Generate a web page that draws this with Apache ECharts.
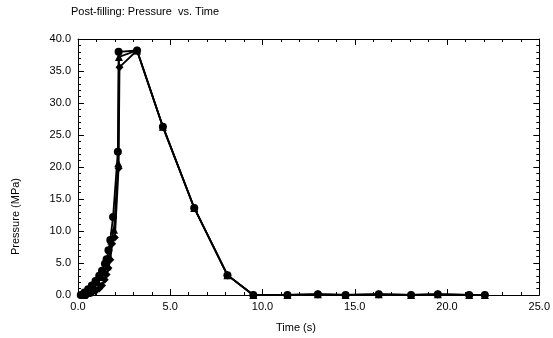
<!DOCTYPE html>
<html>
<head>
<meta charset="utf-8">
<script src="https://cdn.jsdelivr.net/npm/echarts@6/dist/echarts.min.js"></script>
<style>
  html, body { margin: 0; padding: 0; background: #fff; }
  #chart { width: 553px; height: 338px; }
</style>
</head>
<body>
<div id="chart"></div>
<script>
// time (s), pressure (MPa), one array per traced node
var riseA = [[0.15, 0], [0.35, 0.4], [0.55, 0.9], [0.75, 1.5], [0.95, 2.2], [1.15, 3.0], [1.3, 3.8],
             [1.46, 4.9], [1.55, 5.6], [1.65, 7.0], [1.75, 8.6], [1.9, 12.2], [2.16, 22.4], [2.2, 38.0]];
var riseB = [[0.3, 0], [0.5, 0.3], [0.7, 0.8], [0.9, 1.3], [1.1, 2.0], [1.3, 2.8], [1.45, 3.6],
             [1.6, 4.5], [1.7, 6.0], [1.8, 8.5], [1.95, 10.2], [2.18, 20.6], [2.22, 37.2]];
var riseC = [[0.5, 0], [0.75, 0.3], [0.95, 0.6], [1.15, 1.0], [1.3, 1.5], [1.45, 2.4], [1.55, 3.2],
             [1.65, 4.2], [1.75, 5.5], [1.85, 8.0], [2.0, 9.0], [2.2, 19.8], [2.25, 35.6]];
var decay = [[3.2, 38.2], [4.6, 26.3], [6.3, 13.6], [8.1, 3.1], [9.5, 0], [11.35, 0], [13.0, 0.1],
             [14.5, 0], [16.3, 0.1], [18.05, 0], [19.5, 0.1], [21.2, 0], [22.05, 0]];
var xTicks = [0, 25, 5];
var yTicks = [0, 40, 5];

var font = 'Liberation Sans, Arial, sans-serif';

function makeSeries(name, rise, symbol) {
  return {
    name: name,
    type: 'line',
    data: rise.concat(decay),
    symbol: symbol,
    symbolSize: 8,
    lineStyle: { color: '#000', width: 1.8 },
    itemStyle: { color: '#000' },
    animation: false
  };
}

var axisCommon = {
  type: 'value',
  splitLine: { show: false },
  axisLine: { onZero: false, lineStyle: { color: '#000', width: 1 } },
  axisTick: { inside: true, length: 6, lineStyle: { color: '#000' } },
  minorTick: { show: true, splitNumber: 5, length: 3, lineStyle: { color: '#000' } }
};

var option = {
  backgroundColor: '#fff',
  animation: false,
  grid: { left: 78, right: 12, top: 39, bottom: 43 },
  graphic: [
    { type: 'text', left: 71, top: 6,
      style: { text: 'Post-filling: Pressure  vs. Time', font: '11px ' + font, fill: '#000' } },
    { type: 'text', left: 276, top: 322,
      style: { text: 'Time (s)', font: '11px ' + font, fill: '#000' } },
    { type: 'text', x: 10, y: 255, rotation: Math.PI / 2,
      style: { text: 'Pressure (MPa)', font: '11px ' + font, fill: '#000' } }
  ],
  xAxis: [
    Object.assign({}, axisCommon, {
      min: xTicks[0], max: xTicks[1], interval: xTicks[2],
      axisLabel: { color: '#000', fontFamily: font, fontSize: 11, margin: 6,
                   formatter: function (v) { return v.toFixed(1); } }
    }),
    Object.assign({}, axisCommon, {
      position: 'top', min: xTicks[0], max: xTicks[1], interval: xTicks[2],
      axisLabel: { show: false }
    })
  ],
  yAxis: [
    Object.assign({}, axisCommon, {
      min: yTicks[0], max: yTicks[1], interval: yTicks[2],
      axisLabel: { color: '#000', fontFamily: font, fontSize: 11, margin: 7,
                   formatter: function (v) { return v.toFixed(1); } }
    }),
    Object.assign({}, axisCommon, {
      position: 'right', min: yTicks[0], max: yTicks[1], interval: yTicks[2],
      axisLabel: { show: false }
    })
  ],
  series: [
    makeSeries('A', riseA, 'circle'),
    makeSeries('B', riseB, 'triangle'),
    makeSeries('C', riseC, 'diamond')
  ]
};

var myChart = echarts.init(document.getElementById('chart'));
myChart.setOption(option, true);
</script>
</body>
</html>
